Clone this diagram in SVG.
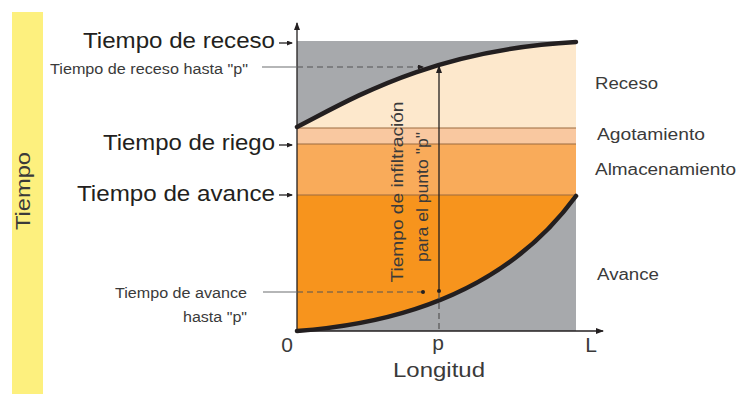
<svg xmlns="http://www.w3.org/2000/svg" width="738" height="394" viewBox="0 0 738 394">
<defs>
<marker id="arr" markerWidth="8" markerHeight="6" refX="7" refY="3" orient="auto" markerUnits="userSpaceOnUse"><path d="M0,0 L8,3 L0,6 z" fill="#231f20"/></marker>
<marker id="arrS" markerWidth="6" markerHeight="5" refX="5" refY="2.5" orient="auto" markerUnits="userSpaceOnUse"><path d="M0,0 L6,2.5 L0,5 z" fill="#231f20"/></marker>
<marker id="dot" markerWidth="5" markerHeight="5" refX="2.5" refY="2.5" markerUnits="userSpaceOnUse"><circle cx="2.5" cy="2.5" r="2" fill="#231f20"/></marker>
</defs>
<style>
text{font-family:"Liberation Sans",Arial,sans-serif;fill:#231f20}
.big{font-size:22px}
.sm{font-size:14px;fill:#3a3a3a}
.rt{font-size:16px;fill:#3a3a3a}
.ax{font-size:21px;fill:#3a3a3a}
.band{stroke:#9c6a3e;stroke-width:1.2;fill:none}
.curve{stroke:#231f20;stroke-width:4.5;fill:none;stroke-linecap:round}
.ptr{stroke:#231f20;stroke-width:1.3;fill:none}
.dash{stroke:#555;stroke-width:1.2;stroke-dasharray:6 4;fill:none}
.lead{stroke:#6d6e71;stroke-width:1.2;fill:none}
</style>
<rect x="12" y="12" width="31" height="382" fill="#fdf07e"/>
<text class="ax" transform="translate(30,191) rotate(-90)" text-anchor="middle" textLength="78" lengthAdjust="spacingAndGlyphs">Tiempo</text>

<g id="regions">
<rect x="297" y="41" width="279" height="290" fill="#a7a9ac"/>
<path d="M297,127 C350,100 430,50 576,42 L576,128 L297,128 Z" fill="#fde8cc"/>
<rect x="297" y="128" width="279" height="16" fill="#f9c8a0"/>
<rect x="297" y="144" width="279" height="51" fill="#f9ab5a"/>
<path d="M297,195 L576,195 L576,196 C500,300 380,325 297,331 Z" fill="#f7941d"/>
<line class="band" x1="297" y1="128" x2="576" y2="128"/>
<line class="band" x1="297" y1="144" x2="576" y2="144"/>
<line class="band" x1="297" y1="195" x2="576" y2="195"/>
<path class="curve" d="M297,127 C350,100 430,50 576,42"/>
<path class="curve" d="M297,331 C380,325 500,300 576,196"/>
</g>

<g id="connectors">
<line class="ptr" x1="297" y1="331" x2="297" y2="23" marker-end="url(#arr)"/>
<line class="ptr" x1="297" y1="331" x2="603" y2="331" marker-end="url(#arr)"/>
<line class="ptr" x1="279" y1="43" x2="292" y2="43" marker-end="url(#arrS)"/>
<line class="ptr" x1="279" y1="145" x2="292" y2="145" marker-end="url(#arrS)"/>
<line class="ptr" x1="279" y1="195" x2="292" y2="195" marker-end="url(#arrS)"/>
<line class="lead" x1="262" y1="67" x2="297" y2="67"/>
<line class="dash" x1="297" y1="67" x2="423" y2="67" marker-end="url(#arrS)"/>
<line class="lead" x1="263" y1="292" x2="297" y2="292"/>
<line class="dash" x1="297" y1="292" x2="423" y2="292" marker-end="url(#dot)"/>
<line class="ptr" x1="439" y1="291" x2="439" y2="66" marker-start="url(#dot)" marker-end="url(#arr)"/>
<line class="dash" x1="439" y1="293" x2="439" y2="331" stroke-dasharray="3 3"/>
</g>

<g id="labels-left">
<text class="big" x="275" y="48" text-anchor="end" textLength="192" lengthAdjust="spacingAndGlyphs">Tiempo de receso</text>
<text class="big" x="275" y="150" text-anchor="end" textLength="172" lengthAdjust="spacingAndGlyphs">Tiempo de riego</text>
<text class="big" x="275" y="201" text-anchor="end" textLength="198" lengthAdjust="spacingAndGlyphs">Tiempo de avance</text>
<text class="sm" x="248" y="74" text-anchor="end" textLength="198" lengthAdjust="spacingAndGlyphs">Tiempo de receso hasta "p"</text>
<text class="sm" x="247" y="298" text-anchor="end" textLength="132" lengthAdjust="spacingAndGlyphs">Tiempo de avance</text>
<text class="sm" x="247" y="322" text-anchor="end" textLength="64" lengthAdjust="spacingAndGlyphs">hasta "p"</text>
</g>

<g id="labels-right">
<text class="rt" x="595" y="89" textLength="63" lengthAdjust="spacingAndGlyphs">Receso</text>
<text class="rt" x="597" y="140" textLength="108" lengthAdjust="spacingAndGlyphs">Agotamiento</text>
<text class="rt" x="595" y="175" textLength="141" lengthAdjust="spacingAndGlyphs">Almacenamiento</text>
<text class="rt" x="597" y="280" textLength="62" lengthAdjust="spacingAndGlyphs">Avance</text>
</g>

<g id="labels-axis">
<text class="ax" x="287" y="352" text-anchor="middle">0</text>
<text class="ax" x="438" y="350" text-anchor="middle">p</text>
<text class="ax" x="591" y="352" text-anchor="middle">L</text>
<text class="ax" x="439" y="377" text-anchor="middle" textLength="92" lengthAdjust="spacingAndGlyphs">Longitud</text>
<text class="rt" font-size="17" transform="translate(403,192) rotate(-90)" text-anchor="middle" textLength="181" lengthAdjust="spacingAndGlyphs">Tiempo de infiltración</text>
<text class="rt" font-size="17" transform="translate(428,197) rotate(-90)" text-anchor="middle" textLength="130" lengthAdjust="spacingAndGlyphs">para el punto "p"</text>
</g>
</svg>
